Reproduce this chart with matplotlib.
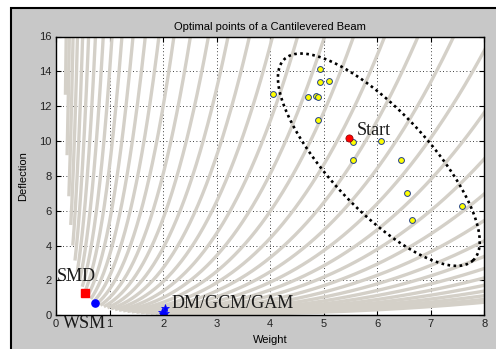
import numpy as np
import matplotlib
matplotlib.use("Agg")
import matplotlib.pyplot as plt
from matplotlib.patches import Rectangle

# --- design space of the cantilever (diameter d, length L in mm) ---
diameters_mm = np.arange(10, 51, 1)
lengths_mm = np.arange(200, 1001, 5)
rho = 7.8e-6      # kg/mm^3
load_N = 1000.0
E_mod = 207000.0  # N/mm^2

# --- optimal points ---
yellow_w = [4.06, 4.93, 4.93, 5.09, 4.70, 4.85, 4.89, 4.89, 5.55, 6.07, 5.55, 6.44, 6.55, 6.65, 7.58]
yellow_d = [12.72, 14.15, 13.41, 13.46, 12.51, 12.61, 12.53, 11.23, 9.92, 9.98, 8.93, 8.89, 6.99, 5.46, 6.25]
start_w, start_d = 5.47, 10.15
smd_w, smd_d = 0.54, 1.29
wsm_w, wsm_d = 0.73, 0.69
dm_w = [2.03, 1.98, 2.03, 2.00]
dm_d = [0.42, 0.18, 0.12, 0.08]

# ellipse drawn round the yellow cloud (centre, half axes as vectors)
ell_center = (6.03, 8.93)
ell_u = (1.76, -5.78)
ell_v = (-0.675, -1.93)

fig = plt.figure(figsize=(4.96, 3.49), dpi=100, facecolor="white")
frame = Rectangle((11 / 496, -0.1), 1.2, 1.1 - 8 / 349,
                  transform=fig.transFigure, facecolor="#c8c8c8",
                  edgecolor="black", linewidth=1.5, zorder=-10)
fig.add_artist(frame)

ax = fig.add_axes([56 / 496, (349 - 315.3) / 349, 428.3 / 496, 278.8 / 349])
ax.set_facecolor("white")

# --- gray design-space curves ---
for d in diameters_mm:
    weight = rho * np.pi / 4 * d ** 2 * lengths_mm
    defl = 64 * load_N * lengths_mm ** 3 / (3 * E_mod * np.pi * d ** 4)
    ax.plot(weight, defl, color="#d4d0c8", linewidth=2.4, solid_capstyle="butt", zorder=1)

# --- ellipse ---
t = np.linspace(0, 2 * np.pi, 400)
ex = ell_center[0] + ell_u[0] * np.cos(t) + ell_v[0] * np.sin(t)
ey = ell_center[1] + ell_u[1] * np.cos(t) + ell_v[1] * np.sin(t)
ax.plot(ex, ey, color="black", linewidth=1.9, linestyle=(0, (1, 1.3)),
        dash_capstyle="butt", zorder=3)

# --- points ---
ax.plot(yellow_w, yellow_d, "o", color="yellow", markeredgecolor="#23408a",
        markersize=4.2, markeredgewidth=0.7, zorder=4)
ax.plot(start_w, start_d, "o", color="red", markeredgecolor="#8a0000",
        markersize=5.2, markeredgewidth=0.5, zorder=5)
ax.plot(smd_w, smd_d, "s", color="red", markeredgecolor="red", markersize=5.2, zorder=5)
ax.plot(wsm_w, wsm_d, "o", color="blue", markeredgecolor="blue", markersize=5.2, zorder=5)
ax.plot(dm_w, dm_d, "*", color="blue", markersize=6, markeredgewidth=0.5, zorder=5)

serif = dict(family="Liberation Serif", fontsize=13, color="#1a1a1a")
ax.text(5.62, 10.36, "Start", va="baseline", **serif, zorder=6)
ax.text(0.01, 1.96, "SMD", va="baseline", **serif, zorder=6)
ax.text(0.13, -0.73, "WSM", va="baseline", clip_on=False, **serif, zorder=6)
ax.text(2.15, 0.40, "DM/GCM/GAM", va="baseline", **serif, zorder=6)

# --- axes styling (MATLAB look) ---
ax.set_xlim(0, 8)
ax.set_ylim(0, 16)
ax.set_xticks(range(0, 9))
ax.set_yticks(range(0, 17, 2))
ax.grid(True, color="black", linestyle=(0, (1, 3)), linewidth=0.6)
ax.set_axisbelow(True)
ax.tick_params(direction="in", length=3.5, top=True, right=True,
               labelsize=8, labelcolor="#222222", pad=3)
for lab in ax.get_xticklabels() + ax.get_yticklabels():
    lab.set_family("Liberation Sans")
for sp in ax.spines.values():
    sp.set_linewidth(1.0)
    sp.set_zorder(7)

ax.set_title("Optimal points of a Cantilevered Beam", fontsize=8,
             family="Liberation Sans", pad=5)
ax.set_xlabel("Weight", fontsize=8, family="Liberation Sans", labelpad=4)
ax.set_ylabel("Deflection", fontsize=8, family="Liberation Sans", labelpad=8)

fig.savefig("out.png", dpi=100, facecolor=fig.get_facecolor())
